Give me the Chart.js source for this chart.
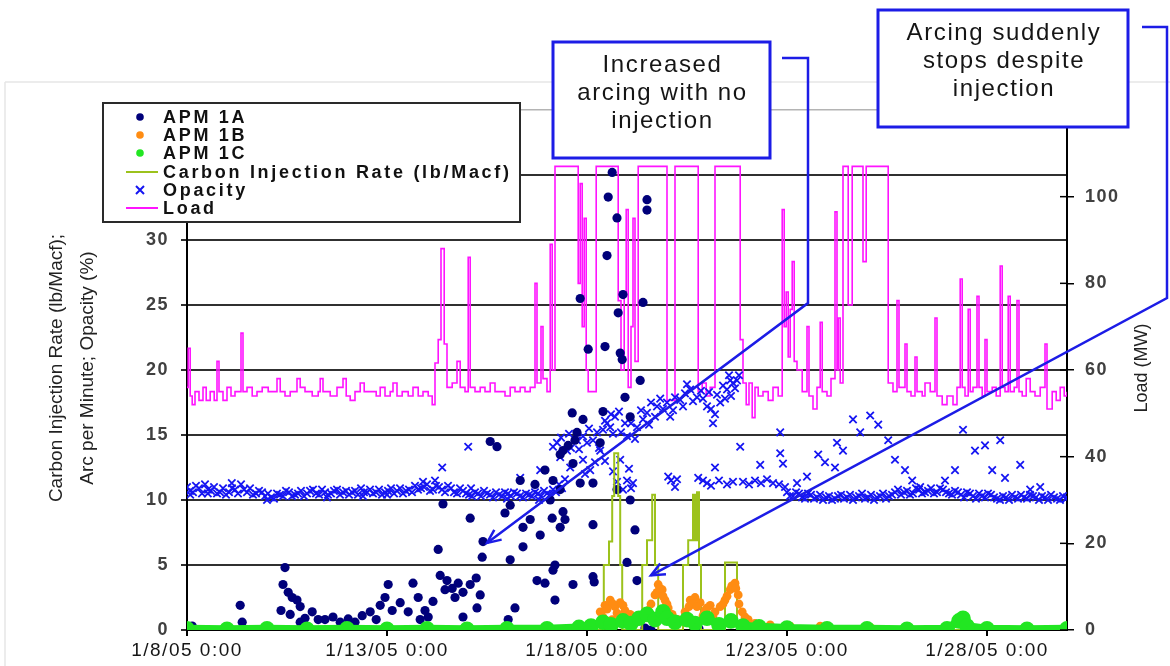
<!DOCTYPE html>
<html><head><meta charset="utf-8">
<script src="https://cdn.jsdelivr.net/npm/chart.js@4.4.1/dist/chart.umd.min.js"></script>
<style>html,body{margin:0;padding:0;background:#fff;}#wrap{width:1170px;height:666px;position:relative;}</style>
</head><body><div id="wrap"><canvas id="c" width="1170" height="666"></canvas></div>
<script>
// ---------- DATA (x = days since 1/8/05 0:00) ----------
const xTickDays = [0, 5, 10, 15, 20];
const xTickLabels = ['1/8/05 0:00', '1/13/05 0:00', '1/18/05 0:00', '1/23/05 0:00', '1/28/05 0:00'];
const seriesNames = ['APM 1A', 'APM 1B', 'APM 1C', 'Carbon Injection Rate (lb/Macf)', 'Opacity', 'Load'];
const leftAxisTitle = ['Carbon Injection Rate (lb/Macf);', 'Arc per Minute; Opacity (%)'];
const rightAxisTitle = 'Load (MW)';
const note1 = ['Increased', 'arcing with no', 'injection'];
const note2 = ['Arcing suddenly', 'stops despite', 'injection'];

const apm1A = [
[0.13,0.3],[1.33,1.9],[1.38,0.6],[2.45,4.8],[2.4,3.5],[2.53,2.9],[2.63,2.5],[2.75,2.3],[2.35,1.5],[2.58,1.2],[2.83,1.8],[2.95,0.9],[3.13,1.4],[3.28,0.8],[2.83,0.6],[3.45,0.8],[3.65,1.0],[3.83,0.6],[4.03,0.85],[4.2,0.6],[4.38,1.1],[4.58,1.4],[4.73,0.8],[4.83,1.9],[4.95,2.5],[5.03,3.5],[5.13,1.5],[5.65,3.6],[5.33,2.1],[5.53,1.4],[5.78,2.5],[5.95,1.5],[6.15,2.2],[5.83,0.8],[6.03,1.0],
[6.28,6.2],[6.4,9.7],[7.08,8.6],[6.33,4.2],[6.5,3.8],[6.63,3.2],[6.78,3.6],[6.9,2.9],[7.08,3.5],[7.23,4.0],[7.33,2.7],[6.7,2.5],[6.45,3.1],[6.9,1.0],[7.25,1.7],[7.4,6.8],[7.38,5.6],[7.58,14.5],[7.75,14.1],[7.95,9.0],[8.08,9.6],[8.4,7.9],[8.4,6.4],[8.33,11.5],[8.7,11.2],[8.95,12.3],[9.33,13.5],[9.53,14.2],[9.7,14.6],[9.13,8.6],[9.4,9.1],[9.33,7.9],[10.15,8.1],[11.2,7.7],[9.2,5.0],[9.15,4.6],[8.75,3.8],[8.95,3.6],[10.15,4.1],[10.18,3.7],[11.0,5.2],[11.25,3.8],[8.2,1.7],[8.03,0.8],
[10.63,35.2],[10.53,33.3],[10.75,31.7],[11.5,33.1],[11.5,32.3],[10.5,28.8],[9.83,25.5],[10.9,25.8],[11.4,25.2],[10.78,24.4],[10.03,21.6],[10.45,21.8],[10.83,21.3],[10.88,20.8],[11.33,19.2],[10.95,17.9],[9.63,16.7],[10.4,16.8],[11.08,16.4],[9.9,16.2],[9.75,15.2],[10.33,14.4],[9.4,13.8],[9.65,12.8],[9.15,11.5],[9.33,10.8],[9.83,11.3],[10.15,11.3],[11.08,10.0],[10.75,10.8],
[9.65,3.5],[9.2,2.3],[8.08,5.4],[8.58,8.5],[8.83,7.3],[9.45,8.5],[9.08,10.0],
[11.45,0.15],[11.6,0.0],[12.8,0.1],[13.3,0.0],[19.38,1.0]
];

const apm1B = [
[10.08,0.4],[10.33,1.4],[10.45,1.9],[10.58,2.3],[10.7,1.8],[10.83,2.1],[10.95,1.5],[11.08,1.2],[10.63,0.8],[11.33,0.9],[11.53,1.5],[11.7,2.7],[11.78,3.5],[11.88,3.1],[11.95,2.3],[12.03,1.7],[12.13,1.2],[12.28,0.8],[12.45,1.4],[12.58,2.3],[12.7,2.5],[12.83,2.1],[12.95,1.5],[13.08,1.9],[13.2,1.4],[13.33,1.8],[13.45,2.3],[13.58,3.1],[13.7,3.6],[13.78,2.7],[13.88,1.4],[14.03,0.8],[14.2,0.5],[14.58,0.4],[15.08,0.3],[15.83,0.3],[17.08,0.2],[19.33,0.7],[19.45,0.4],
[10.4,1.0],[10.5,1.6],[10.65,2.0],[10.75,1.3],[10.9,1.9],[11.0,0.9],[11.6,2.0],[11.75,2.9],[11.82,3.2],[11.9,2.6],[12.0,2.0],[12.08,1.0],[12.55,1.8],[12.65,2.0],[12.75,1.8],[12.9,1.1],[13.0,1.7],[13.15,1.0],[13.4,2.0],[13.5,2.6],[13.62,3.4],[13.72,3.2],[13.8,2.0],[13.95,1.0]
];

const apm1C = [
[0,0.1],[1,0.05],[2,0.1],[3,0.05],[4,0.1],[5,0.05],[6,0.1],[7,0.05],[8,0.1],[9,0.1],[9.8,0.2],[10.1,0.3],[10.4,0.6],[10.6,0.4],[10.9,0.7],[11.1,0.5],[11.3,0.9],[11.5,1.2],[11.7,0.8],[11.9,1.4],[12.0,0.9],[12.2,0.6],[12.5,0.8],[12.7,0.5],[13.0,0.9],[13.3,0.4],[13.6,0.7],[13.9,0.3],[14.3,0.25],[15,0.15],[16,0.1],[17,0.1],[18,0.05],[19,0.1],[19.3,0.7],[19.4,0.9],[19.5,0.3],[20,0.1],[21,0.05],[22,0.1]
];

const carbonRate = [
[0,0],[10.42,5.0],[10.55,6.8],[10.63,10.3],[10.68,13.6],[10.78,10.3],[10.83,5.0],[10.88,0],[11.38,5.0],[11.5,6.9],[11.63,10.4],[11.7,5.0],[11.78,0],[12.4,5.0],[12.53,6.9],[12.65,10.4],[12.7,6.9],[12.75,10.6],[12.8,5.0],[12.85,0],[13.45,5.2],[13.75,0],[22,0]
];

const opacity = [
[0,11.0],[0.15,10.6],[0.3,10.9],[0.45,11.2],[0.6,10.7],[0.75,10.5],[0.9,10.9],[1.05,10.6],[1.2,10.8],[1.35,11.2],[1.5,10.6],[1.65,10.4],[1.8,10.7],[1.95,10.3],[2.1,10.2],[2.25,10.5],[2.4,10.3],[2.55,10.6],[2.7,10.4],[2.85,10.7],[3.0,10.5],[3.15,10.8],[3.3,10.4],[3.45,10.6],[3.6,10.5],[3.75,10.8],[3.9,10.6],[4.05,10.4],[4.2,10.7],[4.35,10.9],[4.5,10.6],[4.65,10.5],[4.8,10.8],[4.95,10.6],[5.1,10.9],[5.25,10.7],[5.4,10.5],[5.55,10.8],[5.7,11.1],[5.85,10.9],[6.0,11.2],[6.15,10.8],[6.3,11.0],[6.45,10.6],[6.6,10.9],[6.75,10.5],[6.9,10.7],[7.05,10.4],[7.2,10.6],[7.35,10.3],[7.5,10.5],[7.65,10.2],[7.8,10.4],[7.95,10.6],[8.1,10.3],[8.25,10.5],[8.4,10.2],[8.55,10.4],[8.7,10.6],[8.85,10.3],[9.0,10.5],[9.15,10.8],[9.3,11.2],[9.45,11.6],
[0.075,10.7],[0.225,11.1],[0.375,10.5],[0.525,10.8],[0.675,11.0],[0.825,10.6],[0.975,10.4],[1.125,10.9],[1.275,10.5],[1.425,10.8],[1.575,10.9],[1.725,10.5],[1.875,10.6],[2.025,10.5],[2.175,10.1],[2.325,10.4],[2.475,10.7],[2.625,10.3],[2.775,10.5],[2.925,10.3],[3.075,10.7],[3.225,10.5],[3.375,10.8],[3.525,10.4],[3.675,10.7],[3.825,10.4],[3.975,10.7],[4.125,10.6],[4.275,10.4],[4.425,10.6],[4.575,10.8],[4.725,10.6],[4.875,10.4],[5.025,10.7],[5.175,10.5],[5.325,10.9],[5.475,10.7],[5.625,10.6],[5.775,10.8],[5.925,11.0],[6.075,10.7],[6.225,11.1],[6.375,10.8],[6.525,11.1],[6.675,10.6],[6.825,10.9],[6.975,10.5],[7.125,10.3],[7.275,10.5],[7.425,10.7],[7.575,10.4],[7.725,10.6],[7.875,10.3],[8.025,10.5],[8.175,10.6],[8.325,10.3],[8.475,10.5],[8.625,10.3],[8.775,10.5],[8.925,10.7],[9.075,10.4],[9.225,10.6],[9.375,10.9],
[0.08,10.4],[0.52,10.5],[1.12,11.3],[2.0,10.0],[3.5,10.2],[4.4,10.3],[5.0,10.4],[5.9,11.4],[6.2,11.5],[7.1,10.9],[8.0,10.1],[8.8,10.0],
[6.38,12.5],[7.03,14.1],[8.33,11.7],[8.83,12.3],
[9.25,14.4],[9.5,13.8],[9.75,14.6],[10.0,14.4],[10.25,15.2],[10.5,15.9],[10.7,16.4],[11.0,14.9],[11.25,15.6],[11.5,16.7],[11.75,17.2],[11.83,17.8],[12.08,16.4],[12.33,17.7],[12.58,18.5],[12.75,17.9],[13.0,17.2],[13.15,15.9],[13.33,17.5],[13.5,18.5],[13.65,19.0],[13.75,19.2],[13.58,19.2],
[9.6,14.0],[9.9,14.9],[10.15,14.6],[10.4,15.4],[10.6,16.6],[10.85,15.2],[11.1,15.9],[11.4,16.2],[11.6,17.5],[11.9,17.0],[12.2,17.9],[12.45,18.2],[12.9,17.8],[13.1,17.0],[13.25,18.1],[13.4,18.8],[13.55,19.6],[13.7,18.6],
[9.35,14.8],[9.55,15.1],[9.8,13.9],[10.05,15.5],[10.3,14.0],[10.45,16.1],[10.65,15.1],[10.8,16.8],[10.95,15.9],[11.2,14.7],[11.35,16.9],[11.55,15.8],[11.7,16.4],[12.0,17.5],[12.15,16.9],[12.4,17.2],[12.5,18.9],[12.65,17.6],[12.85,18.4],[13.05,18.3],[13.2,16.6],[13.45,17.8],[13.6,18.0],[13.8,19.6],
[9.15,14.1],[9.33,13.3],[9.58,12.5],[9.9,13.1],[10.08,12.3],[10.33,13.8],[10.58,15.6],[10.83,13.1],[11.0,11.5],[11.15,11.3],[10.9,10.8],[12.03,11.8],[12.2,11.0],[12.78,11.7],[13.0,11.3],[13.2,12.5],[13.83,14.1],
[9.95,12.0],[10.2,12.9],[10.45,13.0],[10.65,12.2],[10.75,11.4],[11.05,12.4],[11.1,10.9],[12.1,11.5],[12.25,11.6],[12.9,11.5],[13.1,11.1],[13.3,11.5],[13.5,11.2],[13.65,11.4],
[13.9,11.4],[14.05,11.2],[14.2,11.5],[14.35,11.3],[14.5,11.6],[14.65,11.3],[14.8,11.2],[14.95,11.0],[14.33,12.7],[14.83,15.2],[14.83,13.6],[14.9,12.8],
[15.25,11.3],[15.5,11.8],[15.78,13.5],[15.95,12.9],[16.2,12.5],[16.25,14.4],[16.4,13.8],[16.65,16.2],[16.83,15.2],[17.08,16.5],[17.28,15.8],[17.53,14.6],[17.7,13.1],[17.95,12.3],[18.13,11.5],[18.33,11.0],[18.95,11.5],[19.2,12.3],[19.4,15.4],[19.7,13.8],[19.95,14.2],[20.13,12.3],[20.33,14.6],[20.45,11.7],[20.83,12.7],[21.08,10.8],[21.33,11.0],
[15.0,10.6],[15.15,10.3],[15.3,10.5],[15.45,10.1],[15.6,10.4],[15.75,10.2],[15.9,10.0],[16.05,10.3],[16.2,10.1],[16.35,10.4],[16.5,10.2],[16.65,10.0],[16.8,10.3],[16.95,10.1],[17.1,10.4],[17.25,10.2],[17.4,10.5],[17.55,10.3],[17.7,10.6],[17.85,10.4],[18.0,10.7],[18.15,10.5],[18.3,10.8],[18.45,10.6],[18.6,10.9],[18.75,10.6],[18.9,10.8],[19.05,10.5],[19.2,10.7],[19.35,10.4],[19.5,10.6],[19.65,10.3],[19.8,10.5],[19.95,10.2],[20.1,10.4],[20.25,10.1],[20.4,10.3],[20.55,10.0],[20.7,10.2],[20.85,10.4],[21.0,10.1],[21.15,10.3],[21.3,10.0],[21.45,10.2],[21.6,10.4],[21.75,10.1],[21.9,10.3],[22.0,10.2],
[15.075,10.3],[15.225,10.6],[15.375,10.2],[15.525,10.5],[15.675,10.1],[15.825,10.4],[15.975,10.2],[16.125,10.0],[16.275,10.3],[16.425,10.1],[16.575,10.4],[16.725,10.2],[16.875,10.5],[17.025,10.2],[17.175,10.0],[17.325,10.3],[17.475,10.1],[17.625,10.4],[17.775,10.8],[17.925,10.6],[18.075,10.4],[18.225,10.9],[18.375,10.5],[18.525,10.7],[18.675,10.5],[18.825,10.9],[18.975,10.6],[19.125,10.4],[19.275,10.6],[19.425,10.2],[19.575,10.5],[19.725,10.1],[19.875,10.3],[20.025,10.5],[20.175,10.2],[20.325,10.0],[20.475,10.2],[20.625,10.4],[20.775,10.1],[20.925,10.2],[21.075,10.4],[21.225,10.2],[21.375,10.3],[21.525,10.0],[21.675,10.2],[21.825,10.0],[21.975,10.1]
];

const loadMW = [
[0,56],[0.03,65],[0.08,54],[0.13,52],[0.2,55],[0.3,53],[0.4,56],[0.48,53],[0.58,55],[0.68,53],[0.75,62],[0.8,55],[0.9,53],[1.0,56],[1.1,54],[1.2,55],[1.35,68.5],[1.4,55],[1.5,56],[1.63,54],[1.75,55],[1.88,56],[2.03,55],[2.18,55],[2.25,58],[2.33,55],[2.45,54],[2.58,55],[2.75,58],[2.83,56],[2.95,55],[3.13,54],[3.28,55],[3.33,58],[3.4,55],[3.58,54],[3.75,56],[3.9,58],[3.98,54],[4.08,53],[4.2,55],[4.33,57],[4.43,55],[4.58,55],[4.73,54],[4.83,56],[4.95,54],[5.08,55],[5.15,57],[5.25,54],[5.38,55],[5.53,54],[5.65,56],[5.78,54],[5.9,55],[6.03,54],[6.13,52],[6.2,61.6],[6.28,67],[6.35,88],[6.43,66],[6.5,56],[6.63,57],[6.75,62],[6.83,56],[6.95,55],[7.03,86],[7.08,56],[7.2,55],[7.33,56],[7.45,55],[7.58,57],[7.7,55],[7.83,55],[7.95,54],[8.08,56],[8.2,55],[8.33,56],[8.45,55],[8.58,56],[8.7,80],[8.75,57],[8.85,70],[8.9,58],[9.0,55],[9.08,89],[9.13,60],[9.2,107],[9.78,80],[9.83,103],[9.88,70],[9.93,95],[9.98,60],[10.03,55],[10.23,107],[10.78,76],[10.85,60],[10.93,78],[10.98,97],[11.03,56],[11.1,70],[11.15,95],[11.2,62],[11.28,107],[12.0,53],[12.2,107],[12.78,55],[12.88,57],[12.98,54],[13.08,56],[13.2,107],[13.83,67],[13.9,57],[13.98,52],[14.05,57],[14.13,49],[14.2,56],[14.28,54],[14.4,55],[14.53,53],[14.65,56],[14.78,54],[14.88,97],[14.93,70],[14.98,78],[15.03,63],[15.08,74],[15.13,85],[15.18,62],[15.25,60],[15.38,55],[15.5,70],[15.55,54],[15.65,51],[15.75,56],[15.83,71],[15.88,55],[16.0,54],[16.1,58],[16.2,96.5],[16.25,60],[16.28,72],[16.33,57],[16.4,107],[16.53,75],[16.63,107],[16.9,85],[16.98,107],[17.53,57],[17.65,55],[17.75,76],[17.8,56],[17.95,66],[18.0,55],[18.1,54],[18.2,63],[18.25,55],[18.38,54],[18.45,57],[18.58,55],[18.7,72],[18.75,54],[18.88,52],[19.0,54],[19.15,52],[19.25,56],[19.33,81],[19.38,56],[19.45,54],[19.53,74],[19.58,55],[19.65,56],[19.75,77],[19.8,56],[19.88,54],[19.95,67],[20.0,55],[20.13,56],[20.23,54],[20.33,84],[20.38,56],[20.45,55],[20.53,77],[20.58,55],[20.68,56],[20.75,76],[20.8,55],[20.88,54],[20.98,58],[21.08,55],[21.2,54],[21.33,56],[21.45,66],[21.5,51],[21.63,55],[21.73,53],[21.83,56],[21.93,54],[22.0,55]
];

// ---------- STYLE ----------
const FONT = "'Liberation Sans', Arial, sans-serif";
const C = { a:'#00007a', b:'#ff8c12', c:'#22e622', carbon:'#9cc21c', opac:'#1515f2', load:'#ff14ff', box:'#1c1ce6' };
const pts = arr => arr.map(p => ({x: p[0], y: p[1]}));

// annotation arrow tips, in data units (day, left-axis value)
const tips = [{x: 7.5, y: 6.7}, {x: 11.6, y: 4.2}];

const decor = {
  id: 'decor',
  beforeDraw(chart) {
    const ctx = chart.ctx;
    ctx.save();
    ctx.strokeStyle = '#e6e6e6'; ctx.lineWidth = 1.5;
    ctx.beginPath(); ctx.moveTo(5, 82); ctx.lineTo(1170, 82); ctx.moveTo(5, 82); ctx.lineTo(5, 666); ctx.stroke();
    ctx.restore();
    ctx.letterSpacing = '1.5px';
  },
  afterDraw(chart) {
    const ctx = chart.ctx, ca = chart.chartArea;
    const y2 = chart.scales.y2, xs = chart.scales.x, ys = chart.scales.y;
    ctx.save();
    ctx.letterSpacing = '0px';
    // inner ticks on right axis
    ctx.strokeStyle = '#000'; ctx.lineWidth = 1.5;
    y2.ticks.forEach(t => { const py = y2.getPixelForValue(t.value); ctx.beginPath(); ctx.moveTo(ca.right - 7, py); ctx.lineTo(ca.right, py); ctx.stroke(); });
    // axis titles
    ctx.fillStyle = '#222'; ctx.textAlign = 'center'; ctx.textBaseline = 'middle';
    ctx.font = '19px ' + FONT;
    ctx.save(); ctx.translate(57, (ca.top + ca.bottom) / 2 - 2); ctx.rotate(-Math.PI / 2);
    ctx.fillText(leftAxisTitle[0], 0, 0); ctx.fillText(leftAxisTitle[1], 0, 31); ctx.restore();
    ctx.font = '18px ' + FONT;
    ctx.save(); ctx.translate(1142, (ca.top + ca.bottom) / 2 - 2); ctx.rotate(-Math.PI / 2);
    ctx.fillText(rightAxisTitle, 0, 0); ctx.restore();

    // legend
    const lx = 103, ly = 103, lw = 417, lh = 119;
    ctx.fillStyle = '#fff'; ctx.fillRect(lx, ly, lw, lh);
    ctx.strokeStyle = '#2a2a2a'; ctx.lineWidth = 2; ctx.strokeRect(lx, ly, lw, lh);
    const rowY = [117, 135, 153, 172, 190, 208];
    const mk = ['dot', 'dot', 'dot', 'line', 'x', 'line'];
    const col = [C.a, C.b, C.c, C.carbon, C.opac, C.load];
    ctx.font = 'bold 18px ' + FONT; ctx.letterSpacing = '2.7px';
    ctx.textAlign = 'left'; ctx.textBaseline = 'middle';
    seriesNames.forEach((n, i) => {
      const y = rowY[i];
      ctx.fillStyle = col[i]; ctx.strokeStyle = col[i];
      if (mk[i] === 'dot') { ctx.beginPath(); ctx.arc(140, y, 3.8, 0, Math.PI * 2); ctx.fill(); }
      else if (mk[i] === 'line') { ctx.lineWidth = 2; ctx.beginPath(); ctx.moveTo(126, y); ctx.lineTo(158, y); ctx.stroke(); }
      else { ctx.lineWidth = 2; ctx.beginPath(); ctx.moveTo(136, y - 4); ctx.lineTo(144, y + 4); ctx.moveTo(144, y - 4); ctx.lineTo(136, y + 4); ctx.stroke(); }
      ctx.fillStyle = '#111'; ctx.fillText(n, 163, y + 1);
    });

    // annotation boxes
    const drawBox = (bx, by, bw, bh, lines, ys0) => {
      ctx.fillStyle = '#fff'; ctx.fillRect(bx, by, bw, bh);
      ctx.strokeStyle = C.box; ctx.lineWidth = 3; ctx.strokeRect(bx, by, bw, bh);
      ctx.fillStyle = '#151515'; ctx.font = '24px ' + FONT; ctx.letterSpacing = '1.6px';
      ctx.textAlign = 'center'; ctx.textBaseline = 'middle';
      lines.forEach((t, i) => ctx.fillText(t, bx + bw / 2 + 1, ys0 + i * 28));
    };
    drawBox(553, 42, 217, 116, note1, 65);
    drawBox(878, 10, 250, 117, note2, 33);

    // connectors with arrowheads
    const conn = (path, tip) => {
      const tx = xs.getPixelForValue(tip.x), ty = ys.getPixelForValue(tip.y);
      ctx.strokeStyle = C.box; ctx.lineWidth = 2.5; ctx.lineJoin = 'miter';
      ctx.beginPath(); ctx.moveTo(path[0][0], path[0][1]);
      for (let i = 1; i < path.length; i++) ctx.lineTo(path[i][0], path[i][1]);
      ctx.lineTo(tx, ty); ctx.stroke();
      const last = path[path.length - 1];
      const ang = Math.atan2(ty - last[1], tx - last[0]), L = 15, a = 0.42;
      ctx.beginPath();
      ctx.moveTo(tx - L * Math.cos(ang - a), ty - L * Math.sin(ang - a));
      ctx.lineTo(tx, ty);
      ctx.lineTo(tx - L * Math.cos(ang + a), ty - L * Math.sin(ang + a));
      ctx.stroke();
    };
    conn([[782, 58], [808, 58], [808, 303]], tips[0]);
    conn([[1142, 27], [1167, 27], [1167, 298]], tips[1]);
    ctx.restore();
  }
};

new Chart(document.getElementById('c'), {
  type: 'scatter',
  data: {
    datasets: [
      { label: seriesNames[0], data: pts(apm1A), order: 3, pointStyle: 'circle', pointRadius: 4.6, backgroundColor: C.a, borderColor: C.a, borderWidth: 0 },
      { label: seriesNames[1], data: pts(apm1B), order: 1, pointStyle: 'circle', pointRadius: 4.4, backgroundColor: C.b, borderColor: C.b, borderWidth: 0 },
      { label: seriesNames[2], data: pts(apm1C), order: 0, showLine: true, borderWidth: 8, borderColor: C.c, pointStyle: 'circle', pointRadius: 3.8, backgroundColor: C.c },
      { label: seriesNames[3], data: pts(carbonRate), order: 2, showLine: true, stepped: true, borderColor: C.carbon, borderWidth: 2, pointRadius: 0 },
      { label: seriesNames[4], data: pts(opacity), order: 4, pointStyle: 'crossRot', pointRadius: 5.2, borderColor: C.opac, backgroundColor: C.opac, borderWidth: 1.8 },
      { label: seriesNames[5], data: pts(loadMW), order: 5, yAxisID: 'y2', showLine: true, stepped: true, borderColor: C.load, borderWidth: 1.6, pointRadius: 0 }
    ]
  },
  options: {
    responsive: false, devicePixelRatio: 1, animation: false, events: [],
    layout: { padding: { top: 110, left: 0, right: 0, bottom: 0 } },
    plugins: { legend: { display: false }, tooltip: { enabled: false } },
    scales: {
      x: {
        type: 'linear', position: 'bottom', min: 0, max: 22,
        afterBuildTicks: s => { s.ticks = xTickDays.map(v => ({ value: v })); },
        afterFit: s => { s.height = 36; },
        ticks: { autoSkip: false, maxRotation: 0, padding: 3, color: '#151515', font: { family: FONT, size: 19 },
          callback: v => { const i = xTickDays.indexOf(v); return i >= 0 ? xTickLabels[i] : ''; } },
        grid: { drawOnChartArea: false, drawTicks: true, tickLength: 6, color: '#000', lineWidth: 2 },
        border: { display: true, color: '#000', width: 2 }
      },
      y: {
        position: 'left', min: 0, max: 40,
        afterFit: s => { s.width = 187; },
        ticks: { stepSize: 5, padding: 12, color: '#404040', font: { family: FONT, size: 18, weight: 'bold' } },
        grid: { drawTicks: true, tickLength: 6,
          color: c => (c.tick && c.tick.value === 40) ? '#b4b4b4' : '#303030',
          lineWidth: c => (c.tick && c.tick.value === 40) ? 1.5 : 2 },
        border: { display: true, color: '#000', width: 2 }
      },
      y2: {
        position: 'right', min: 0, max: 120,
        afterFit: s => { s.width = 103; },
        ticks: { stepSize: 20, padding: 11, color: '#404040', font: { family: FONT, size: 18, weight: 'bold' } },
        grid: { drawOnChartArea: false, drawTicks: true, tickLength: 7, color: '#000', lineWidth: 1.5 },
        border: { display: true, color: '#000', width: 2 }
      }
    }
  },
  plugins: [decor]
});
</script>
</body></html>
